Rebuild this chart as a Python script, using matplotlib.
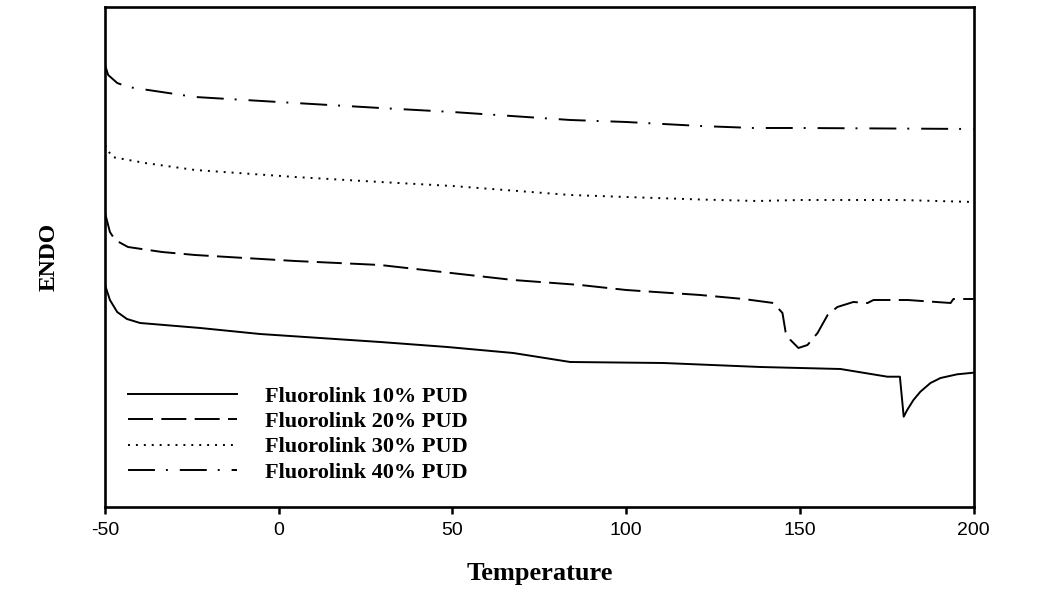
#%%
import matplotlib
matplotlib.use('Agg')
import matplotlib.pyplot as plt

# DSC traces (arbitrary ENDO units)
t_10 = [-50, -48.6, -46.5, -43.7, -39.9, -22.6, -5.4, 29.2, 48.5, 67.5, 83.9, 110.7,
        138.7, 161.7, 175.2, 178.8, 179.9, 180.9, 182.7, 184.7, 187.6, 190.5, 195.3, 200]
y_10 = [221.5, 206.5, 194.5, 187.5, 183.5, 178.5, 172.5, 164.5, 159.5, 153.5, 144.5, 143.5,
        139.5, 137.5, 129.8, 129.8, 89.8, 96.5, 106.5, 114.8, 123.5, 128.5, 132.2, 133.8]

t_20 = [-50, -48.6, -47.1, -43.4, -33.6, -24.1, -14.6, 4.7, 29.2, 67.5, 86.8, 100, 121.3,
        133.8, 142.4, 145.0, 145.9, 147.3, 149.6, 152.2, 155.1, 158.0, 160.8, 165.4, 169.5,
        171.2, 181.0, 193.4, 194.2, 200]
y_20 = [293.5, 274.5, 266.5, 259.5, 254.5, 251.5, 249.5, 245.5, 241.5, 226.5, 221.5, 216.5, 211.5,
        207.5, 203.5, 193.5, 174.5, 166.5, 158.5, 161.5, 173.5, 191.5, 199.5, 204.5, 203.5,
        206.5, 206.5, 203.5, 207.5, 207.5]

t_30 = [-50, -48.0, -38.5, -24.1, 4.7, 29.2, 50, 83.9, 100, 121.3, 137.8, 150.2, 179.0, 200]
y_30 = [361.5, 349.5, 343.5, 336.5, 329.5, 324.5, 320.5, 311.5, 309.5, 307, 305.5, 306.5, 306.5, 304.5]

t_40 = [-50, -49.1, -46.5, -43.4, -24.1, 4.7, 29.2, 50, 83.9, 100, 121.3, 136.6, 150.2, 200]
y_40 = [441.5, 431.5, 423.5, 419.5, 409.5, 403.5, 398.5, 394.5, 386.5, 384.5, 380.5, 378.5, 378.5, 377.5]

labels = ['Fluorolink 10% PUD', 'Fluorolink 20% PUD', 'Fluorolink 30% PUD', 'Fluorolink 40% PUD']
xticks = [-50, 0, 50, 100, 150, 200]

#%%
plt.rcParams['lines.scale_dashes'] = False
plt.rcParams['axes.unicode_minus'] = False

fig = plt.figure(figsize=(10.37, 5.94), dpi=100)
ax = fig.add_axes([0.1013, 0.1473, 0.8375, 0.8401])

lw = 1.4
ax.plot(t_10, y_10, color='k', lw=lw, label=labels[0])
ax.plot(t_20, y_20, color='k', lw=lw, dashes=(18, 6), label=labels[1])
ax.plot(t_30, y_30, color='k', lw=lw, dashes=(1.4, 4.3), label=labels[2])
ax.plot(t_40, y_40, color='k', lw=lw, dashes=(19.4, 7.9, 1.4, 8.6), label=labels[3])

ax.set_xlim(-50, 200)
ax.set_ylim(0, 499)
ax.set_xticks(xticks)
ax.set_yticks([])
ax.tick_params(axis='x', direction='out', length=5, width=1.8, pad=6,
               labelsize=14)
for lab in ax.get_xticklabels():
    lab.set_family('Liberation Sans')
for s in ax.spines.values():
    s.set_linewidth(1.9)

ax.set_xlabel('Temperature', family='Liberation Serif', fontweight='bold',
              fontsize=19, labelpad=17)
ax.set_ylabel('ENDO', family='Liberation Serif', fontweight='bold',
              fontsize=17, labelpad=33)

leg = ax.legend(loc='upper left', bbox_to_anchor=(0.0265, 0.2415), frameon=False,
                borderpad=0, borderaxespad=0, handlelength=4.9, handletextpad=1.26,
                labelspacing=0.22,
                prop={'family': 'Liberation Serif', 'weight': 'bold', 'size': 16})

fig.savefig('out.png', dpi=100)
